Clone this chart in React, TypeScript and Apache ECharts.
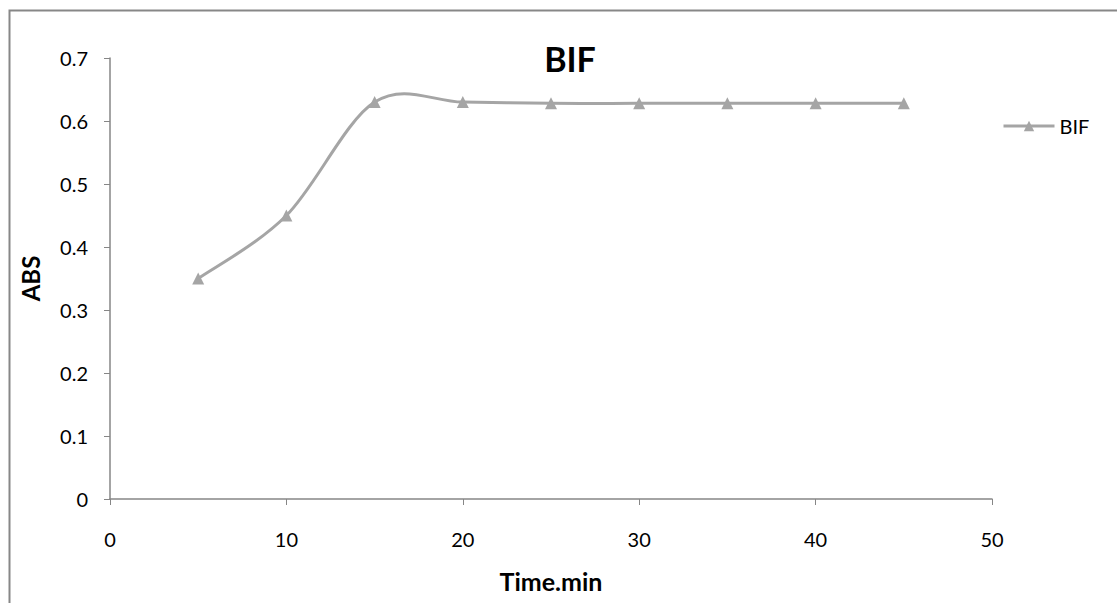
import React, { useEffect, useRef } from "react";
import * as echarts from "echarts";

const timeMin = [5, 10, 15, 20, 25, 30, 35, 40, 45];
const absValues = [0.35, 0.45, 0.63, 0.63, 0.628, 0.628, 0.628, 0.628, 0.628];
const seriesName = "BIF";
const xTicks = { min: 0, max: 50, interval: 10 };
const yTicks = { min: 0, max: 0.7, interval: 0.1 };

const FONT = "Lato, 'Open Sans', 'Liberation Sans', sans-serif";
const LINE_COLOR = "#a5a5a5";
const AXIS_COLOR = "#868686";

// Smoothed curve: cubic Bezier segments whose control points follow the
// neighbouring points (Catmull-Rom style, tension 1/6), computed in pixel space.
function renderCurveSegment(params: any, api: any) {
  const i = params.dataIndex;
  const n = timeMin.length;
  if (i >= n - 1) return null;
  const pt = (k: number) => {
    const kk = Math.max(0, Math.min(n - 1, k));
    return api.coord([timeMin[kk], absValues[kk]]);
  };
  const p0 = pt(i - 1);
  const p1 = pt(i);
  const p2 = pt(i + 1);
  const p3 = pt(i + 2);
  const t = 1 / 6;
  return {
    type: "bezierCurve",
    shape: {
      x1: p1[0],
      y1: p1[1],
      cpx1: p1[0] + (p2[0] - p0[0]) * t,
      cpy1: p1[1] + (p2[1] - p0[1]) * t,
      cpx2: p2[0] - (p3[0] - p1[0]) * t,
      cpy2: p2[1] - (p3[1] - p1[1]) * t,
      x2: p2[0],
      y2: p2[1],
    },
    style: { stroke: LINE_COLOR, lineWidth: 3, fill: "none" },
    silent: true,
  };
}

export default function App() {
  const ref = useRef<HTMLDivElement>(null);

  useEffect(() => {
    if (!ref.current) return;
    const chart = echarts.init(ref.current, undefined, { renderer: "svg" });
    const points = timeMin.map((t, i) => [t, absValues[i]]);
    chart.setOption({
      animation: false,
      backgroundColor: "#ffffff",
      title: {
        text: seriesName,
        left: 565,
        top: 36,
        textAlign: "center",
        textStyle: { fontFamily: FONT, fontSize: 34, fontWeight: "bold", color: "#000" },
      },
      legend: {
        left: 997,
        top: 111,
        itemWidth: 51,
        itemHeight: 13,
        data: [seriesName],
        lineStyle: { color: LINE_COLOR, width: 3, opacity: 1 },
        itemStyle: { color: LINE_COLOR },
        textStyle: { fontFamily: FONT, fontSize: 20, color: "#000" },
      },
      graphic: [
        {
          type: "polyline",
          shape: { points: [[9.5, 620], [9.5, 10.5], [1130, 10.5]] },
          style: { stroke: "#878787", lineWidth: 2, fill: "none" },
          silent: true,
        },
      ],
      grid: { left: 110, right: 125, top: 58, bottom: 104 },
      xAxis: {
        type: "value",
        min: xTicks.min,
        max: xTicks.max,
        interval: xTicks.interval,
        name: "Time.min",
        nameLocation: "middle",
        nameGap: 69,
        nameTextStyle: { fontFamily: FONT, fontSize: 25, fontWeight: "bold", color: "#000" },
        axisLine: { lineStyle: { color: AXIS_COLOR, width: 1.5 } },
        axisTick: { show: true, length: 6, lineStyle: { color: AXIS_COLOR } },
        axisLabel: { fontFamily: FONT, fontSize: 20, color: "#000", margin: 30 },
        splitLine: { show: false },
      },
      yAxis: {
        type: "value",
        min: yTicks.min,
        max: yTicks.max,
        interval: yTicks.interval,
        name: "ABS",
        nameLocation: "middle",
        nameGap: 68,
        nameTextStyle: { fontFamily: FONT, fontSize: 24, fontWeight: "bold", color: "#000" },
        axisLine: { show: true, lineStyle: { color: AXIS_COLOR, width: 1.5 } },
        axisTick: { show: true, length: 6, lineStyle: { color: AXIS_COLOR } },
        axisLabel: { fontFamily: FONT, fontSize: 20, color: "#000", margin: 22 },
        splitLine: { show: false },
      },
      series: [
        {
          name: seriesName + " curve",
          type: "custom",
          coordinateSystem: "cartesian2d",
          data: points,
          encode: { x: 0, y: 1 },
          renderItem: renderCurveSegment,
          clip: false,
          z: 2,
        },
        {
          name: seriesName,
          type: "line",
          data: points,
          symbol: "triangle",
          symbolSize: 12,
          showAllSymbol: true,
          lineStyle: { color: LINE_COLOR, width: 3, opacity: 0 },
          itemStyle: { color: LINE_COLOR },
          z: 3,
        },
      ],
    });
    return () => chart.dispose();
  }, []);

  return (
    <div
      ref={ref}
      style={{ position: "fixed", left: 0, top: 0, width: 1117, height: 603 }}
    />
  );
}
